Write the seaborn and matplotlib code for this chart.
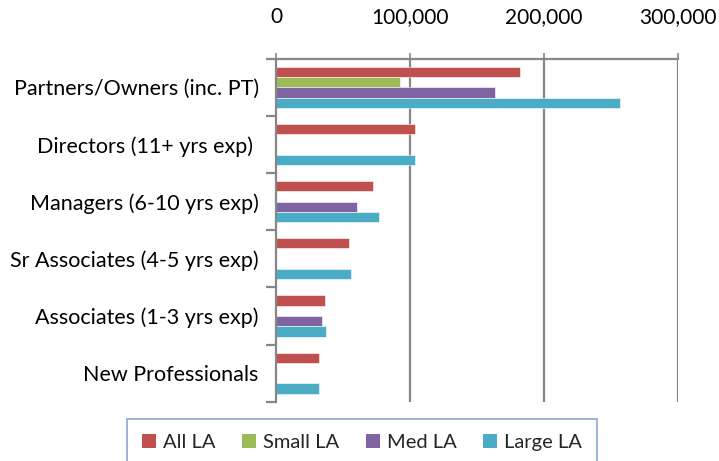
import numpy as np
import pandas as pd
import matplotlib
matplotlib.use("Agg")
import matplotlib.pyplot as plt
import seaborn as sns
from matplotlib.ticker import FuncFormatter, FixedLocator
from matplotlib.patches import Patch

categories = ["Partners/Owners (inc. PT)", "Directors (11+ yrs exp) ", "Managers (6-10 yrs exp)",
              "Sr Associates (4-5 yrs exp)", "Associates (1-3 yrs exp)", "New Professionals"]
series = ["All LA", "Small LA", "Med LA", "Large LA"]
all_la = [182000, 103700, 72700, 54800, 36300, 32100]
small_la = [92800, np.nan, np.nan, np.nan, np.nan, np.nan]
med_la = [163400, np.nan, 60500, np.nan, 34300, np.nan]
large_la = [257000, 103700, 76900, 55700, 37300, 31900]
colors = ["#C0504D", "#9BBB59", "#8064A2", "#4BACC6"]
x_ticks = [0, 100000, 200000, 300000]

rows = []
for s, vals in zip(series, [all_la, small_la, med_la, large_la]):
    for c, v in zip(categories, vals):
        rows.append({"category": c, "series": s, "value": v})
df = pd.DataFrame(rows)

sns.set_theme(style="white")
plt.rcParams["font.family"] = ["Lato", "DejaVu Sans"]

fig = plt.figure(figsize=(7.19, 4.61), dpi=100)
ax = fig.add_axes([276/719, 1-401.7/461, (678-276)/719, (401.7-58.7)/461])

sns.barplot(data=df.dropna(), y="category", x="value", hue="series",
            order=categories, hue_order=series, palette=colors, saturation=1,
            orient="h", width=0.72, gap=0, dodge=True, ax=ax,
            edgecolor="white", linewidth=0.4, errorbar=None, legend=False)

ax.set_xlim(0, 300000)
ax.set_ylim(len(categories)-0.5, -0.5)
ax.xaxis.set_major_locator(FixedLocator(x_ticks))
ax.xaxis.set_major_formatter(FuncFormatter(lambda v, p: f"{int(v):,}"))
ax.xaxis.tick_top()
ax.xaxis.set_label_position("top")
ax.set_xlabel("")
ax.set_ylabel("")

gcol = "#878787"
ax.grid(False)
for xv in x_ticks[1:]:
    ax.axvline(xv, color=gcol, lw=1.6, zorder=0)

for sp in ["right", "bottom"]:
    ax.spines[sp].set_visible(False)
for sp in ["top", "left"]:
    ax.spines[sp].set_color(gcol)
    ax.spines[sp].set_linewidth(1.6)

ax.tick_params(axis="x", which="major", top=True, bottom=False, direction="out",
               length=4, width=1.2, color=gcol, pad=19, labelsize=15, labelcolor="black")
ax.tick_params(axis="y", which="major", left=False, length=0, pad=12.5,
               labelsize=15.5, labelcolor="black")
ax.yaxis.set_minor_locator(FixedLocator(np.arange(-0.5, len(categories), 1.0)))
ax.tick_params(axis="y", which="minor", left=True, direction="out", length=7,
               width=1.6, color=gcol)

handles = [Patch(facecolor=c, edgecolor="none", label=s) for c, s in zip(colors, series)]
leg = fig.legend(handles=handles, loc="upper center", bbox_to_anchor=(362/719, 1-419/461),
                 ncol=4, frameon=True, fontsize=14.5, handlelength=0.7, handleheight=0.7,
                 handletextpad=0.35, columnspacing=1.3, borderpad=0.75, borderaxespad=0,
                 fancybox=False)
leg.get_frame().set_edgecolor("#6E93C7")
leg.get_frame().set_linewidth(1.2)

fig.savefig("out.png", dpi=100)
